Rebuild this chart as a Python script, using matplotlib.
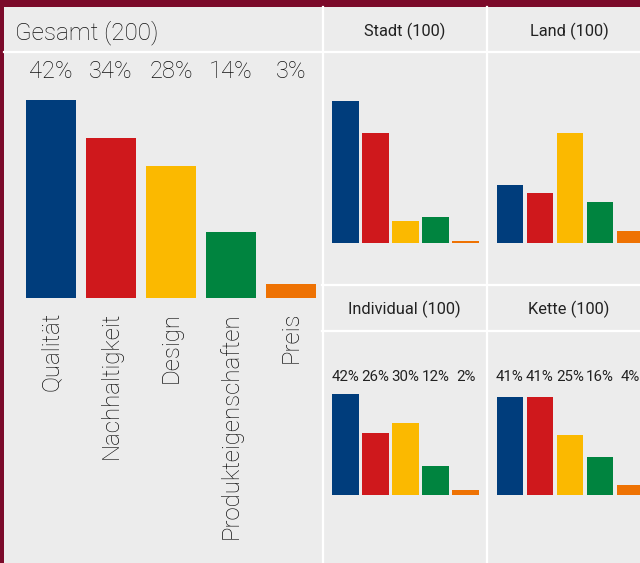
import matplotlib.pyplot as plt
from matplotlib.patches import Rectangle
from matplotlib.lines import Line2D

plt.rcParams['font.family'] = ['Roboto', 'DejaVu Sans']

kategorien = ['Qualität', 'Nachhaltigkeit', 'Design', 'Produkteigenschaften', 'Preis']
farben = ['#003d7c', '#cf181c', '#fbb900', '#00843f', '#ee7203']

gesamt = [42, 34, 28, 14, 3]
stadt = [59, 46, 9, 11, 1]
land = [24, 21, 46, 17, 5]
individual = [42, 26, 30, 12, 2]
kette = [41, 41, 25, 16, 4]

W, H = 640, 563
BG = '#ececec'
RAHMEN = '#7b0a2a'
TEXT = '#222222'


def fx(x):
    return x / W


def fy(y):
    return 1 - y / H


def achse(fig, x0, x1, y_top, y_base, ymax):
    ax = fig.add_axes([fx(x0), fy(y_base), (x1 - x0) / W, (y_base - y_top) / H])
    ax.set_xlim(-0.5, 4.5)
    ax.set_ylim(0, ymax)
    ax.set_facecolor('none')
    for s in ax.spines.values():
        s.set_visible(False)
    ax.tick_params(length=0)
    ax.set_yticks([])
    return ax


fig = plt.figure(figsize=(6.4, 5.63), dpi=100)
fig.patch.set_facecolor(RAHMEN)
fig.patches.append(Rectangle((fx(4), 0), 1, fy(7), transform=fig.transFigure,
                             facecolor=BG, edgecolor='none', zorder=-2))

# Trennlinien
for (x0, y0, x1, y1) in [(4, 52, 640, 52), (322.5, 7, 322.5, 563), (486.5, 7, 486.5, 563),
                         (322, 285, 640, 285), (322, 331, 640, 331)]:
    fig.lines.append(Line2D([fx(x0), fx(x1)], [fy(y0), fy(y1)], transform=fig.transFigure,
                            color='white', lw=1.6, zorder=-1))

# Gesamt
ax = achse(fig, 21, 321, 52, 298, 246 / 4.71)
ax.bar(range(5), gesamt, width=0.83, color=farben)
for i, v in enumerate(gesamt):
    ax.text(i, 48, f'{v}%', ha='center', va='center', fontsize=17, color='#111111',
            fontweight='light')
ax.set_xticks(range(5))
ax.set_xticklabels(kategorien, rotation=90, fontsize=17.3, color='#111111', fontweight='light')
ax.tick_params(axis='x', pad=10)
fig.text(fx(15), fy(33), 'Gesamt (200)', fontsize=17.5, color='#111111', va='center', ha='left',
         fontweight='light')

# Kleine Panels
panels = [
    ('Stadt (100)', stadt, 330.5, 31, 60, 243, False),
    ('Land (100)', land, 495, 31, 60, 243, False),
    ('Individual (100)', individual, 330.5, 309, 340, 495, True),
    ('Kette (100)', kette, 495, 309, 340, 495, True),
]
for titel, werte, x0, ty, ytop, ybase, beschriftet in panels:
    ax = achse(fig, x0, x0 + 150, ytop, ybase, (ybase - ytop) / 2.4)
    ax.bar(range(5), werte, width=0.87, color=farben)
    ax.set_xticks([])
    if beschriftet:
        for i, v in enumerate(werte):
            ax.text(i, 49, f'{v}%', ha='center', va='center', fontsize=10.8, color=TEXT)
    fig.text(fx(x0 + 74), fy(ty), titel, fontsize=11.8, color=TEXT, ha='center', va='center')

fig.savefig('out.png', dpi=100, facecolor=fig.get_facecolor())
